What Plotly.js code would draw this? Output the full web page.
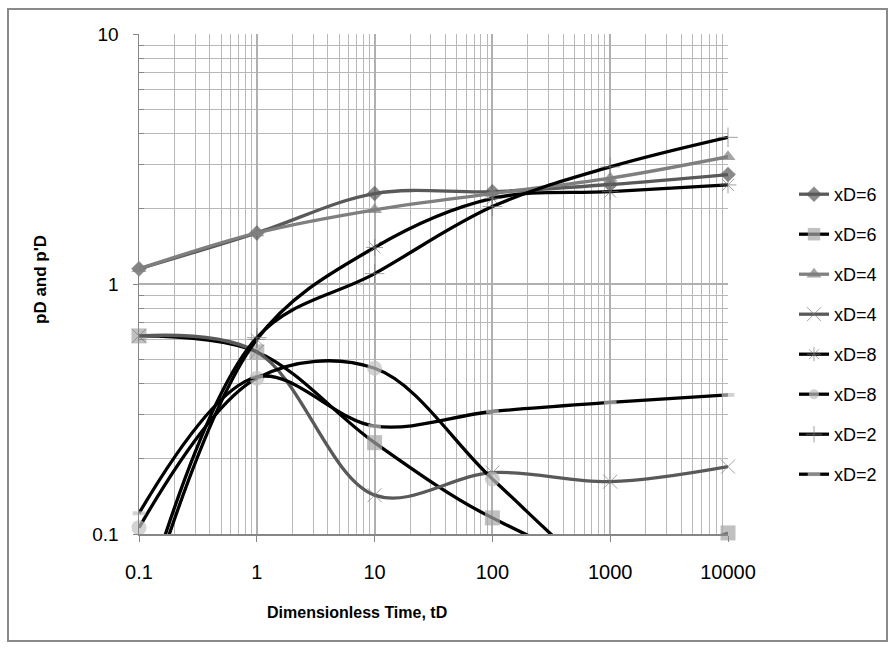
<!DOCTYPE html>
<html>
<head>
<meta charset="utf-8">
<script src="https://cdn.plot.ly/plotly-3.0.1.min.js"></script>
<style>
  html, body { margin: 0; padding: 0; background: #ffffff; }
  #wrap { position: relative; width: 894px; height: 648px; }
  #chart { width: 894px; height: 648px; }
  #frame { position: absolute; left: 7px; top: 8px; width: 877px; height: 630px;
           border: 2px solid #8a8a8a; pointer-events: none; }
</style>
</head>
<body>
<div id="wrap">
  <div id="chart"></div>
  <div id="frame"></div>
</div>
<script>
// ---- data ----
const tD = [0.1, 1, 10, 100, 1000, 10000];

const pD_xD6  = [1.15, 1.60, 2.30, 2.34, 2.50, 2.74];
const dpD_xD6 = [0.62, 0.535, 0.232, 0.116, 0.078, 0.101];
const pD_xD4  = [1.15, 1.60, 1.98, 2.30, 2.65, 3.23];
const dpD_xD4 = [0.62, 0.535, 0.143, 0.176, 0.162, 0.186];
const pD_xD8  = [0.042, 0.60, 1.40, 2.20, 2.34, 2.49];
const dpD_xD8 = [0.106, 0.42, 0.46, 0.166, 0.062, 0.03];
const pD_xD2  = [0.046, 0.61, 1.10, 2.04, 2.94, 3.86];
const dpD_xD2 = [0.121, 0.425, 0.27, 0.309, 0.336, 0.36];

const seriesNames = ["xD=6", "xD=6", "xD=4", "xD=4", "xD=8", "xD=8", "xD=2", "xD=2"];

const xTickVals = [0.1, 1, 10, 100, 1000, 10000];
const xTickText = ["0.1", "1", "10", "100", "1000", "10000"];
const yTickVals = [0.1, 1, 10];
const yTickText = ["0.1", "1", "10"];

const xTitle = "Dimensionless Time, tD";
const yTitle = "pD and p'D";

// ---- helpers ----
const yMin = 0.1, yMax = 10;
function sizes(vals, s) { return vals.map(v => (v < yMin * 0.97 || v > yMax) ? 0 : s); }
function minorVals(lo, hi) {
  const out = [];
  for (let e = lo; e < hi; e++) for (let k = 2; k <= 9; k++) out.push(k * Math.pow(10, e));
  return out;
}

const FONT = "Liberation Sans, Arial, sans-serif";

function mk(y, name, lineColor, symbol, mSize, mColor, mLine) {
  return {
    x: tD, y: y, name: name, type: "scatter", mode: "lines+markers",
    legendgroup: name + "_" + symbol,
    cliponaxis: false,
    line: { color: lineColor, width: 3.3, shape: "spline", smoothing: 1 },
    marker: {
      symbol: symbol, size: sizes(y, mSize), color: mColor,
      line: mLine || { width: 0 }
    }
  };
}

const thin = { color: "#7a7a7a", width: 1 };
const traces = [
  mk(pD_xD6,  seriesNames[0], "#595959", "diamond", 12, "#595959"),
  mk(dpD_xD6, seriesNames[1], "#000000", "square", 15, "#a5a5a5"),
  mk(pD_xD4,  seriesNames[2], "#7f7f7f", "triangle-up", 13, "#7f7f7f"),
  mk(dpD_xD4, seriesNames[3], "#595959", "x-thin", 14, "#7a7a7a", thin),
  mk(pD_xD8,  seriesNames[4], "#000000", "asterisk", 14, "#7a7a7a", thin),
  mk(dpD_xD8, seriesNames[5], "#000000", "circle", 15, "#c0c0c0"),
  mk(pD_xD2,  seriesNames[6], "#000000", "cross-thin", 14, "#7a7a7a", thin),
  mk(dpD_xD2, seriesNames[7], "#000000", "line-ew", 9, "#c0c0c0", { color: "#c0c0c0", width: 4 })
];

const L = 139, R = 166, T = 34, B = 114;
const plotW = 894 - L - R, plotH = 648 - T - B;

const layout = {
  width: 894, height: 648,
  margin: { l: L, r: R, t: T, b: B, pad: 0 },
  paper_bgcolor: "#ffffff", plot_bgcolor: "#ffffff",
  font: { family: FONT, color: "#000000" },
  showlegend: true,
  legend: {
    xref: "container", yref: "container",
    x: 794 / 894, y: 1 - 176 / 648, xanchor: "left", yanchor: "top",
    traceorder: "grouped", tracegroupgap: 13.6,
    font: { family: FONT, size: 18, color: "#000000" },
    bgcolor: "rgba(0,0,0,0)", borderwidth: 0
  },
  xaxis: {
    type: "log", range: [-1, 4],
    tickmode: "array", tickvals: xTickVals, ticktext: xTickText,
    ticks: "outside", ticklen: 6, tickcolor: "#868686", tickwidth: 1,
    ticklabelstandoff: 13,
    tickfont: { family: FONT, size: 20, color: "#000000" },
    showgrid: true, gridcolor: "#b0b0b0", gridwidth: 2,
    minor: { tickmode: "array", tickvals: minorVals(-1, 4), showgrid: true,
             gridcolor: "#b8b8b8", gridwidth: 1, ticks: "" },
    showline: true, linecolor: "#868686", linewidth: 1.5,
    zeroline: false, mirror: false, fixedrange: true
  },
  yaxis: {
    type: "log", range: [-1, 1],
    tickmode: "array", tickvals: yTickVals, ticktext: yTickText,
    ticks: "outside", ticklen: 5, tickcolor: "#868686", tickwidth: 1,
    ticklabelstandoff: 10,
    tickfont: { family: FONT, size: 19, color: "#000000" },
    showgrid: true, gridcolor: "#b0b0b0", gridwidth: 2,
    minor: { tickmode: "array", tickvals: minorVals(-1, 1), showgrid: true,
             gridcolor: "#b8b8b8", gridwidth: 1, ticks: "inside", ticklen: 5, tickcolor: "#868686" },
    showline: true, linecolor: "#868686", linewidth: 1.5,
    zeroline: false, fixedrange: true
  },
  annotations: [
    { text: "<b>" + xTitle + "</b>", xref: "paper", yref: "paper",
      x: (356.5 - L) / plotW, y: (648 - B - 612) / plotH,
      xanchor: "center", yanchor: "middle", showarrow: false,
      font: { family: FONT, size: 16, color: "#000000" } },
    { text: "<b>" + yTitle + "</b>", xref: "paper", yref: "paper",
      x: (40 - L) / plotW, y: (648 - B - 280) / plotH, textangle: -90,
      xanchor: "center", yanchor: "middle", showarrow: false,
      font: { family: FONT, size: 17, color: "#000000" } }
  ]
};

Plotly.newPlot("chart", traces, layout, { staticPlot: true, displayModeBar: false });
</script>
</body>
</html>
